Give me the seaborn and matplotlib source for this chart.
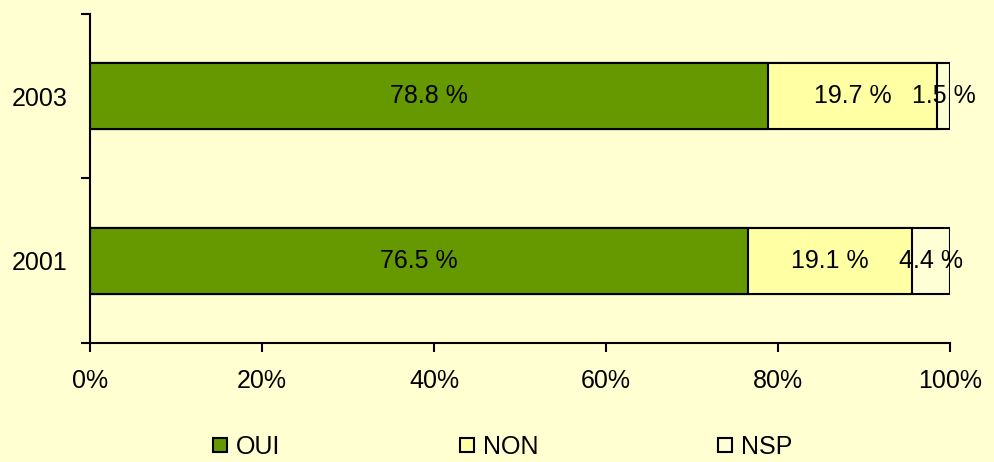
import pandas as pd
import seaborn as sns
import matplotlib.pyplot as plt
from matplotlib.lines import Line2D

# Data
years = ['2003', '2001']
oui = [78.8, 76.5]
non = [19.7, 19.1]
nsp = [1.5, 4.4]
series = ['OUI', 'NON', 'NSP']
colors = ['#669900', '#FFFFA3', '#FFFFD6']
bg = '#FFFFD1'

df = pd.DataFrame({'year': years, 'OUI': oui, 'NON': non, 'NSP': nsp})
df['cum_NON'] = df['OUI'] + df['NON']
df['cum_NSP'] = df['cum_NON'] + df['NSP']

sns.set_theme(style='white')
plt.rcParams['font.family'] = ['Liberation Sans', 'DejaVu Sans']

fig = plt.figure(figsize=(9.94, 4.62), dpi=100, facecolor=bg)
ax = fig.add_axes([0.0905, 0.2576, 0.8652, 0.7121])
ax.set_facecolor(bg)

# stacked bars: draw cumulative totals, largest first
for col, c in zip(['cum_NSP', 'cum_NON', 'OUI'], colors[::-1]):
    sns.barplot(data=df, x=col, y='year', order=years, orient='h',
                color=c, saturation=1, width=0.4,
                edgecolor='black', linewidth=1.5, ax=ax)

# segment labels
for i, y in enumerate(years):
    start = 0
    for s in series:
        w = df.loc[i, s]
        ax.text(start + w / 2, i, f'{w:.1f} %', ha='center', va='center',
                fontsize=18, color='black')
        start += w

ax.set_xlim(0, 100)
ax.set_ylim(1.5, -0.5)
ax.set_xticks(range(0, 101, 20))
ax.set_xticklabels([f'{v}%' for v in range(0, 101, 20)])
ax.set_yticks([0, 1])
ax.set_yticklabels(years)
ax.set_yticks([-0.5, 0.5, 1.5], minor=True)
ax.set_xlabel('')
ax.set_ylabel('')

for side in ['top', 'right']:
    ax.spines[side].set_visible(False)
for side in ['left', 'bottom']:
    ax.spines[side].set_color('black')
    ax.spines[side].set_linewidth(1.5)

ax.tick_params(axis='y', which='major', length=0, pad=16, labelsize=18, colors='black')
ax.tick_params(axis='y', which='minor', left=True, length=6.5, width=1.5, color='black')
ax.tick_params(axis='x', which='major', bottom=True, length=6.5, width=1.5,
               color='black', pad=12, labelsize=18, labelcolor='black')

handles = [Line2D([], [], marker='s', linestyle='none', markersize=9.5,
                  markerfacecolor=c, markeredgecolor='black', markeredgewidth=1.5)
           for c in colors]
fig.legend(handles, series, loc='center', bbox_to_anchor=(0.505, 0.032),
           ncol=3, frameon=False, fontsize=18, handlelength=0.7,
           handletextpad=0.3, columnspacing=7.1, borderpad=0.1,
           labelcolor='black')

fig.savefig('out.png', dpi=100, facecolor=bg)
